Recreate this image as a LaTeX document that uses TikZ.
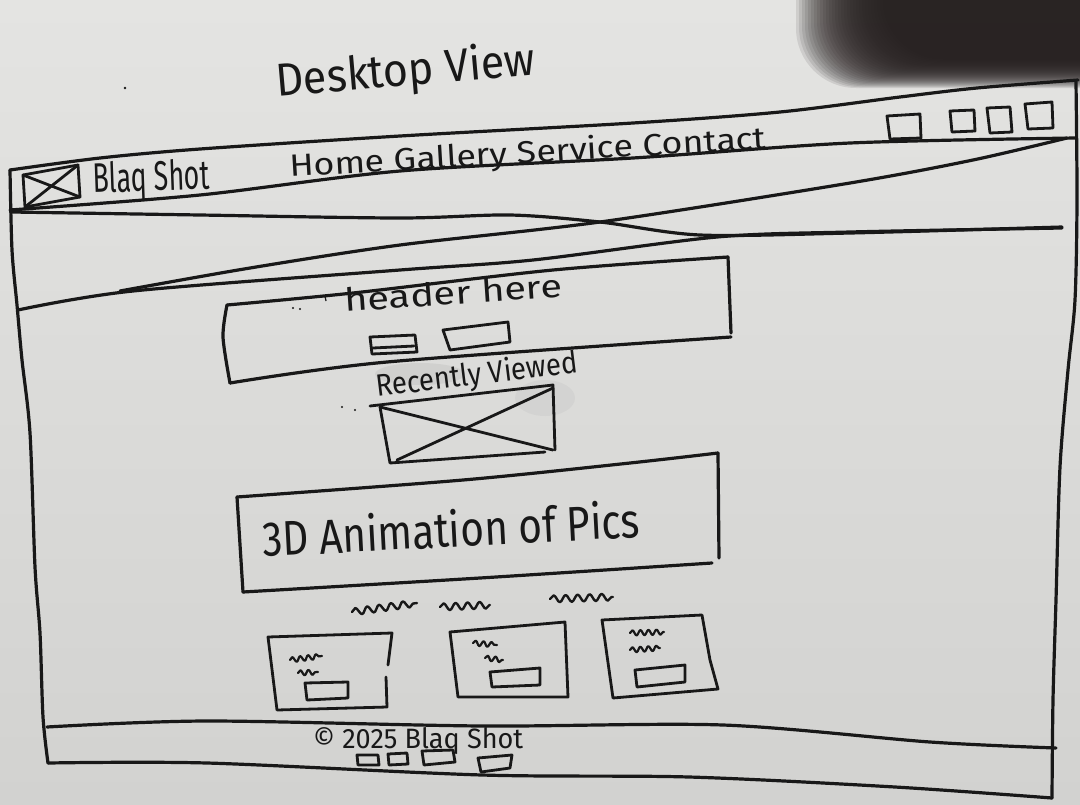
\documentclass[tikz,border=0pt]{standalone}
\usepackage{fontspec}
\setmainfont{Fira Sans}
\usepackage{graphicx}
\usetikzlibrary{decorations.pathmorphing}

\definecolor{ink}{RGB}{24,24,24}
\definecolor{papertop}{RGB}{228,228,226}
\definecolor{paperbot}{RGB}{210,210,208}
\definecolor{shadowcol}{RGB}{40,34,34}
\definecolor{smudge}{RGB}{140,140,140}

% handwritten words: width and height above the baseline, in pt
\newcommand{\inked}[3]{\resizebox{#1pt}{#2pt}{#3}}

\begin{document}
\begin{tikzpicture}[x=1pt, y=-1pt,
  pen/.style={draw=ink, line width=3.2pt, line cap=round, line join=round},
  finepen/.style={pen, line width=2.8pt},
  hand/.style={text=ink, inner sep=0pt, anchor=base west},
  squiggle/.style={pen, line width=2.4pt, decorate,
    decoration={snake, segment length=12pt, amplitude=3.5pt}},
  smallsquiggle/.style={squiggle, line width=2.2pt,
    decoration={snake, segment length=8pt, amplitude=2.6pt}},
]

% paper
\fill[top color=papertop, bottom color=paperbot] (0,0) rectangle (1080,804);
\useasboundingbox (0,0) rectangle (1080,804);

% soft shadow in the upper right corner
\foreach \i in {0,...,29} {
  \pgfmathsetmacro\dx{(\i-12)*3}
  \pgfmathsetmacro\dy{(\i-12)*1.0}
  \fill[shadowcol, opacity=0.11, rounded corners=60pt]
    ({832+\dx},-120) rectangle (1200,{76-\dy});
}

% eraser smudges
\fill[smudge, opacity=0.14] (420,374) ellipse [x radius=45pt, y radius=11pt];
\fill[smudge, opacity=0.09] (545,398) ellipse [x radius=30pt, y radius=18pt];

% title
\node[hand, rotate=5] (title) at (277,97) {\inked{260}{36}{Desktop View}};

% ---- browser window ----
% left, bottom and right edges
\draw[pen] plot[smooth] coordinates {(10,170) (12,250) (17,305) (22,360) (30,433) (35,567) (40,633) (43,717) (48,763)};
\draw[pen] plot[smooth] coordinates {(48,763) (207,763) (482,775) (689,777) (895,787) (1052,798)};
\draw[pen] plot[smooth] coordinates {(1076,82) (1077,200) (1075,300) (1068,370) (1060,467) (1056,600) (1053,700) (1052,798)};

% navigation bar
\draw[pen] plot[smooth] coordinates {(10,170) (100,158) (200,149) (400,136) (633,123) (780,112) (900,97) (977,88) (1078,80)};
\draw[pen] plot[smooth] coordinates {(10,210) (200,195) (400,171) (633,158) (850,143) (1076,138)};

% logo placeholder
\draw[finepen] (23,175) -- (78,165) -- (80,197) -- (25,207) -- cycle;
\draw[finepen] (23,175) -- (80,197) (25,207) -- (78,165);
\node[hand, rotate=2] (brand) at (93,193) {\inked{117}{31}{Blaq Shot}};
\node[hand, rotate=3.4] (menu) at (290,177) {\inked{477}{24}{Home Gallery Service Contact}};

% window buttons
\draw[finepen] (887,116) -- (920,114) -- (921,138) -- (890,139) -- cycle;
\draw[finepen] (950,111) -- (974,110) -- (975,131) -- (952,132) -- cycle;
\draw[finepen] (987,108) -- (1010,107) -- (1012,132) -- (990,133) -- cycle;
\draw[finepen] (1025,104) -- (1052,102) -- (1053,128) -- (1028,129) -- cycle;

% hero image placeholder (crossed lines)
\draw[pen] plot[smooth] coordinates {(12,212) (200,215) (400,218) (510,215) (600,222) (700,235) (850,233) (1062,227)};
\draw[pen] plot[smooth] coordinates {(120,291) (250,268) (400,245) (600,222) (850,183) (973,160) (1067,138)};
\draw[pen] plot[smooth] coordinates {(18,310) (133,291) (400,270) (533,260) (717,237) (850,232) (1062,228)};

% header block
\draw[pen] plot[smooth] coordinates {(227,305) (353,293) (553,270) (728,257)};
\draw[pen] (728,257) -- (731,333);
\draw[pen] plot[smooth] coordinates {(731,337) (387,362) (230,383)};
\draw[pen] plot[smooth] coordinates {(227,305) (223,337) (230,383)};
\node[hand, rotate=4] (headline) at (345,312) {\inked{218}{24}{header here}};
\draw[finepen] (370,337) -- (415,335) -- (417,352) -- (372,354) -- cycle;
\draw[finepen] (373,348) -- (414,346);
\draw[finepen] (443,330) -- (508,322) -- (510,342) -- (450,350) -- cycle;

% recently viewed
\node[hand, rotate=7] (recent) at (377,397) {\inked{203}{24}{Recently Viewed}};
\draw[finepen] (370,406) -- (553,385) -- (555,450);
\draw[finepen] (545,452) -- (390,463) -- (380,407);
\draw[finepen] (380,407) -- (553,450) (397,460) -- (553,388);

% animation banner
\draw[pen] plot[smooth] coordinates {(237,497) (463,480) (630,463) (718,453)};
\draw[pen] (718,453) -- (719,558);
\draw[pen] plot[smooth] coordinates {(712,563) (480,578) (243,592)};
\draw[pen] (237,497) -- (243,592);
\node[hand, rotate=3] (banner) at (263,557) {\inked{378}{38}{3D Animation of Pics}};

% captions above the cards
\draw[squiggle] (352,612) -- (417,603);
\draw[squiggle] (440,607) -- (490,605);
\draw[squiggle] (550,599) -- (613,597);

% cards
\draw[finepen] (388,665) -- (392,633) -- (268,637) -- (277,710) -- (387,707) -- (386,677);
\draw[smallsquiggle] (290,660) -- (322,656);
\draw[smallsquiggle] (298,673) -- (318,672);
\draw[finepen] (305,683) -- (348,682) -- (348,698) -- (307,700) -- cycle;

\draw[finepen] (450,632) -- (565,622) -- (568,697) -- (458,697) -- cycle;
\draw[smallsquiggle] (473,643) -- (497,645);
\draw[smallsquiggle] (485,658) -- (503,660);
\draw[finepen] (490,672) -- (540,668) -- (540,685) -- (492,687) -- cycle;

\draw[finepen] (602,620) -- (702,615) -- (710,660) -- (718,689) -- (613,698) -- cycle;
\draw[smallsquiggle] (630,633) -- (664,632);
\draw[smallsquiggle] (630,650) -- (660,648);
\draw[finepen] (635,670) -- (685,665) -- (685,682) -- (637,687) -- cycle;

% footer
\draw[pen] plot[smooth] coordinates {(47,727) (207,721) (482,726) (723,725) (930,742) (1056,748)};
\node[hand] (copyright) at (313,748) {\inked{210}{21}{© 2025 Blaq Shot}};
\draw[finepen] (357,755) -- (378,755) -- (379,765) -- (358,765) -- cycle;
\draw[finepen] (388,754) -- (407,753) -- (408,764) -- (389,765) -- cycle;
\draw[finepen] (422,751) -- (453,750) -- (455,762) -- (424,765) -- cycle;
\draw[finepen] (478,758) -- (512,755) -- (510,768) -- (481,772) -- cycle;

% stray pen marks
\fill[ink] (125,88) circle (1.3pt);
\fill[ink] (293,308) circle (1.2pt) (300,309) circle (1.2pt);
\draw[ink, line width=1.2pt] (325,296) -- (326,301);
\fill[ink] (342,407) circle (1.2pt) (355,410) circle (1.2pt);

\end{tikzpicture}
\end{document}
